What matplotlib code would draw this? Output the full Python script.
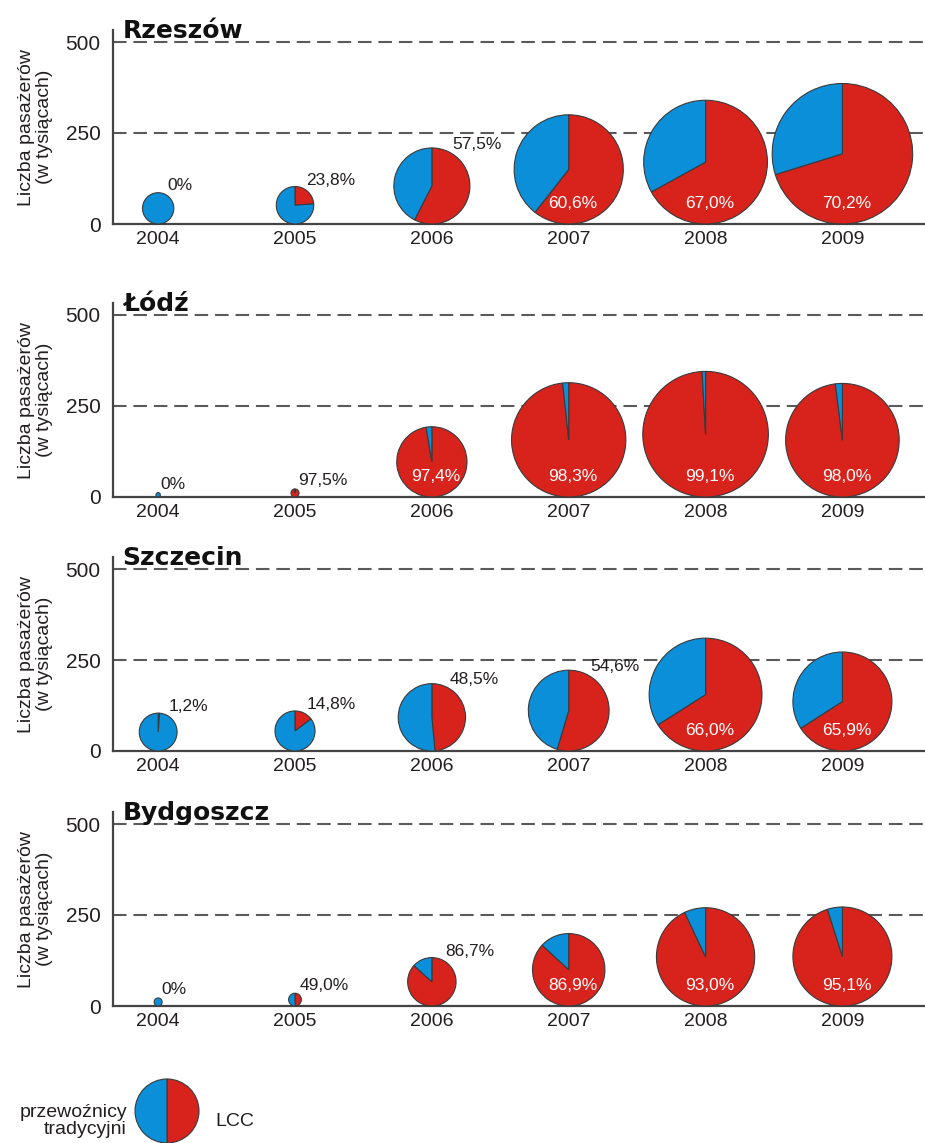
import numpy as np
import matplotlib.pyplot as plt

plt.rcParams['font.family'] = ['Liberation Sans', 'DejaVu Sans']

years = [2004, 2005, 2006, 2007, 2008, 2009]
cities = ['Rzeszów', 'Łódź', 'Szczecin', 'Bydgoszcz']

# passengers in thousands
rzeszow_pax = [86, 103, 209, 300, 340, 386]
lodz_pax = [12, 22, 193, 314, 345, 312]
szczecin_pax = [104, 110, 185, 222, 310, 272]
bydgoszcz_pax = [22, 35, 133, 199, 270, 272]

# LCC share in %
rzeszow_lcc = [0, 23.8, 57.5, 60.6, 67.0, 70.2]
lodz_lcc = [0, 97.5, 97.4, 98.3, 99.1, 98.0]
szczecin_lcc = [1.2, 14.8, 48.5, 54.6, 66.0, 65.9]
bydgoszcz_lcc = [0, 49.0, 86.7, 86.9, 93.0, 95.1]

yticks = [0, 250, 500]
ylabel = 'Liczba pasażerów\n(w tysiącach)'
legend_labels = ['przewoźnicy\ntradycyjni', 'LCC']

pax_all = [rzeszow_pax, lodz_pax, szczecin_pax, bydgoszcz_pax]
lcc_all = [rzeszow_lcc, lodz_lcc, szczecin_lcc, bydgoszcz_lcc]

BLUE = '#0a8fd8'
RED = '#d8221c'
EDGE = '#3a3a3a'
TXT = '#231f20'
GRID = '#5a5a5a'

W, H = 925, 1143
fig = plt.figure(figsize=(W / 100, H / 100), dpi=100)
fig.patch.set_facecolor('white')


def px_box(x0, y_bottom, w, h):
    # pixel box measured from the top of the image -> figure fraction
    return [x0 / W, 1 - y_bottom / H, w / W, h / H]


def fmt(v):
    if v == 0:
        return '0%'
    return f'{v:.1f}'.replace('.', ',') + '%'


bases = [224, 497, 751, 1006]
ax_h = 182 * 532 / 500

for city, base, pax, lcc in zip(cities, bases, pax_all, lcc_all):
    ax = fig.add_axes(px_box(113, base, 817, ax_h))
    ax.set_xlim(2003.67, 2009.64)
    ax.set_ylim(0, 532)
    for v in yticks[1:]:
        ax.axhline(v, color=GRID, lw=1.5, ls=(0, (6.5, 3.3)), zorder=0)
    for s in ['top', 'right']:
        ax.spines[s].set_visible(False)
    for s in ['left', 'bottom']:
        ax.spines[s].set_color('#444444')
        ax.spines[s].set_linewidth(1.6)
    ax.set_xticks(years)
    ax.set_yticks(yticks)
    ax.tick_params(axis='x', length=0, pad=5, labelsize=14, labelcolor=TXT)
    ax.tick_params(axis='y', length=0, pad=9, labelsize=15, labelcolor=TXT)
    ax.set_ylabel(ylabel, fontsize=14, color=TXT, linespacing=1.05)
    ax.yaxis.set_label_coords(-0.074, 0.5)
    ax.annotate(city, xy=(0, 500), xycoords=('axes fraction', 'data'),
                xytext=(7, 3), textcoords='offset points', va='baseline',
                fontsize=18, fontweight='bold', family='DejaVu Sans', color='#111111')

    for yr, p, share in zip(years, pax, lcc):
        (cx, y0), (_, y1) = ax.transData.transform([(yr, 0), (yr, p)])
        d = y1 - y0
        pa = fig.add_axes([(cx - d / 2) / W, y0 / H, d / W, d / H])
        vals, cols = [], []
        for val, c in zip([share, 100 - share], [RED, BLUE]):
            if val > 0:
                vals.append(val)
                cols.append(c)
        pa.pie(vals, colors=cols, startangle=90, counterclock=False,
               wedgeprops=dict(edgecolor=EDGE, linewidth=0.8, clip_on=False))
        pa.set_xlim(-1, 1)
        pa.set_ylim(-1, 1)
        pa.axis('off')
        if share > 60 and p > 150:
            pa.annotate(fmt(share), xy=(0.5, 0), xycoords='axes fraction',
                        xytext=(3, 15), textcoords='offset points',
                        ha='center', va='center', color='white', fontsize=12.5)
        else:
            a = np.deg2rad(60)
            pa.annotate(fmt(share), xy=(0.5 + 0.5 * np.cos(a), 0.5 + 0.5 * np.sin(a)),
                        xycoords='axes fraction', xytext=(1, 1),
                        textcoords='offset points', ha='left', va='bottom',
                        color=TXT, fontsize=12.5, annotation_clip=False)

# legend
lg = fig.add_axes(px_box(135, 1143, 64, 64))
lg.pie([50, 50], colors=[RED, BLUE], startangle=90, counterclock=False,
       wedgeprops=dict(edgecolor=EDGE, linewidth=0.8, clip_on=False))
lg.set_xlim(-1, 1)
lg.set_ylim(-1, 1)
lg.axis('off')
fig.text(127 / W, 1 - 1121 / H, legend_labels[0], ha='right', va='center',
         multialignment='right', fontsize=14, color=TXT, linespacing=1.0)
fig.text(215 / W, 1 - 1121 / H, legend_labels[1], ha='left', va='center',
         fontsize=14, color=TXT)

fig.savefig('out.png', dpi=100, facecolor='white')
